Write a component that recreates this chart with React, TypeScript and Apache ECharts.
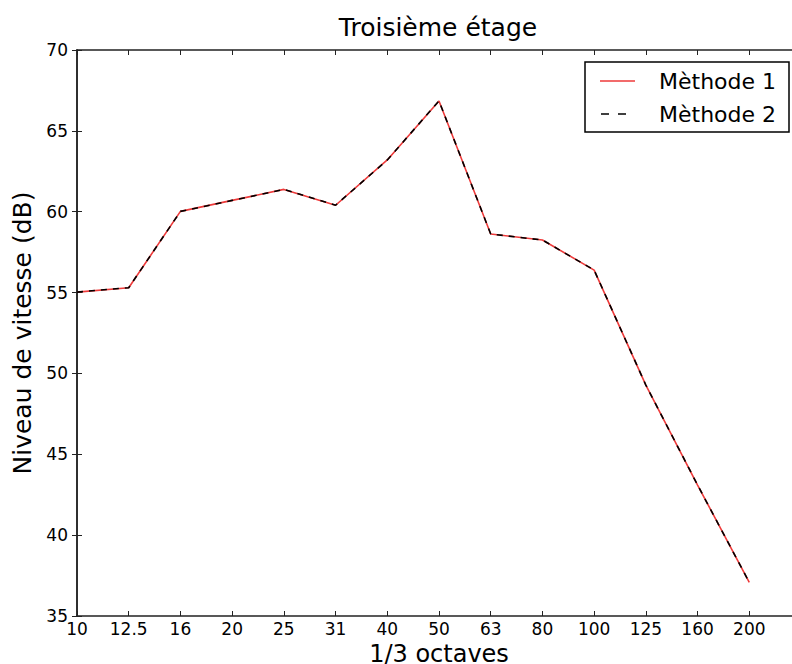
import React, { useEffect, useRef } from "react";
import * as echarts from "echarts";

const categories: string[] = ["10", "12.5", "16", "20", "25", "31", "40", "50", "63", "80", "100", "125", "160", "200"];
const methode1: number[] = [55.03, 55.3, 60.02, 60.7, 61.38, 60.4, 63.2, 66.85, 58.62, 58.25, 56.39, 49.28, 43.1, 37.08];
const methode2: number[] = [55.03, 55.3, 60.02, 60.7, 61.38, 60.4, 63.2, 66.85, 58.62, 58.25, 56.39, 49.28, 43.1, 37.08];
const yTicks = { min: 35, max: 70, step: 5 };
const seriesNames: string[] = ["Mèthode 1", "Mèthode 2"];

const FONT = "DejaVu Sans";

export default function App() {
  const ref = useRef<HTMLDivElement>(null);
  useEffect(() => {
    if (!ref.current) return;
    const chart = echarts.init(ref.current, null, { renderer: "svg" });
    const toPairs = (arr: number[]) => arr.map((v, i) => [i, v]);
    const axisLine = { show: true, lineStyle: { color: "#222", width: 1.5 } };
    const tick = { show: true, inside: true, length: 5, lineStyle: { color: "#222", width: 1 } };
    chart.setOption({
      animation: false,
      backgroundColor: "#fff",
      textStyle: { fontFamily: FONT },
      grid: { left: 77, top: 50, bottom: 48, right: -9, containLabel: false, outerBoundsMode: "none" },
      xAxis: [
        {
          type: "value",
          position: "bottom",
          min: 0,
          max: 14,
          interval: 1,
          axisLine,
          axisTick: tick,
          splitLine: { show: false },
          axisLabel: {
            color: "#000",
            fontSize: 17,
            fontFamily: FONT,
            margin: 4,
            formatter: (v: number) => categories[v] ?? "",
          },
          name: "1/3 octaves",
          nameLocation: "middle",
          nameGap: 17,
          nameTextStyle: { color: "#000", fontSize: 24, lineHeight: 24, fontFamily: FONT },
        },
        {
          type: "value",
          position: "top",
          min: 0,
          max: 14,
          interval: 1,
          axisLine,
          axisTick: tick,
          splitLine: { show: false },
          axisLabel: { show: false },
        },
      ],
      yAxis: [
        {
          type: "value",
          position: "left",
          min: yTicks.min,
          max: yTicks.max,
          interval: yTicks.step,
          axisLine,
          axisTick: tick,
          splitLine: { show: false },
          axisLabel: { color: "#000", fontSize: 17, fontFamily: FONT, margin: 9 },
          name: "Niveau de vitesse (dB)",
          nameLocation: "middle",
          nameGap: 40,
          nameTextStyle: { color: "#000", fontSize: 25, fontFamily: FONT },
        },
        {
          type: "value",
          position: "right",
          min: yTicks.min,
          max: yTicks.max,
          interval: yTicks.step,
          axisLine,
          axisTick: tick,
          splitLine: { show: false },
          axisLabel: { show: false },
        },
      ],
      series: [
        {
          name: seriesNames[0],
          type: "line",
          data: toPairs(methode1),
          symbol: "none",
          lineStyle: { color: "#ee3a3a", width: 1.6 },
          z: 2,
        },
        {
          name: seriesNames[1],
          type: "line",
          data: toPairs(methode2),
          symbol: "none",
          lineStyle: { color: "#000", width: 1.6, type: [6, 6] },
          z: 3,
        },
      ],
      graphic: [
        {
          type: "text",
          x: 438,
          y: 27,
          style: {
            text: "Troisième étage",
            fill: "#000",
            font: `25px "${FONT}"`,
            textAlign: "center",
            textVerticalAlign: "middle",
          },
        },
        {
          type: "rect",
          shape: { x: 585, y: 62, width: 204, height: 70 },
          style: { fill: "#fff", stroke: "#000", lineWidth: 1.5 },
          z: 10,
        },
        {
          type: "line",
          shape: { x1: 600, y1: 81, x2: 635, y2: 81 },
          style: { stroke: "#ee3a3a", lineWidth: 1.6 },
          z: 11,
        },
        {
          type: "line",
          shape: { x1: 601, y1: 114, x2: 634, y2: 114 },
          style: { stroke: "#000", lineWidth: 1.6, lineDash: [8, 9] },
          z: 11,
        },
        {
          type: "text",
          x: 659,
          y: 81,
          style: { text: seriesNames[0], fill: "#000", font: `22px "${FONT}"`, textVerticalAlign: "middle" },
          z: 11,
        },
        {
          type: "text",
          x: 659,
          y: 114,
          style: { text: seriesNames[1], fill: "#000", font: `22px "${FONT}"`, textVerticalAlign: "middle" },
          z: 11,
        },
      ],
    });
    return () => chart.dispose();
  }, []);
  return <div ref={ref} style={{ position: "absolute", left: 0, top: 0, width: 792, height: 664 }} />;
}
